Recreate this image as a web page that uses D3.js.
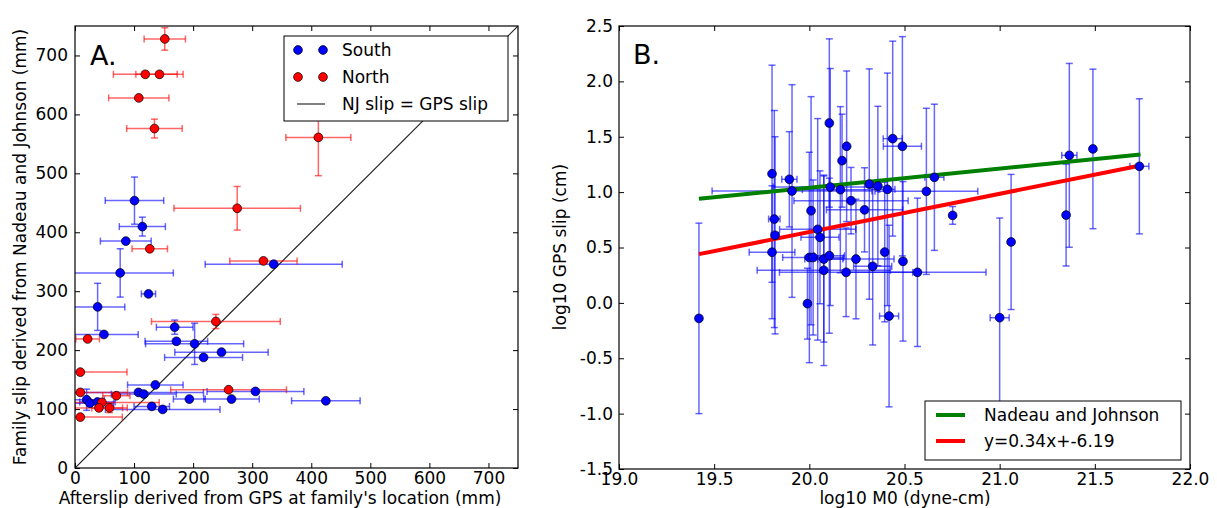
<!DOCTYPE html>
<html>
<head>
<meta charset="utf-8">
<script src="https://cdn.jsdelivr.net/npm/d3@7"></script>
<style>
html,body{margin:0;padding:0;background:#fff;}
svg{display:block;font-family:"DejaVu Sans",sans-serif;}
</style>
</head>
<body>
<svg id="chart" width="1217" height="508"></svg>
<script>
// ---------- Panel A data (mm) ----------
const southX    = [100.7,114,86,76.5,124.4,38.3,49,168.8,171.6,202.5,248,217.7,136,107.5,116.5,305.5,193.6,265,424.7,130,148.5,19.7,25.3,38,336.4];
const southY    = [453.7,409.6,385,331,295.4,273.4,226.6,239,215,210.7,196.6,187.6,141,128.3,125.4,130,117,117,114,104.5,99.4,115.8,110,112,345.8];
const southXErr = [49.5,39,43,90,12,46,58,31,53,83,79,66,47,110,55,82,27,47,58,30,97,30,40,30,116];
const southYErr = [40,16,0,41,0,40,0,12,0,35,0,0,0,0,0,0,0,0,0,0,0,18,0,0,0];

const northX    = [152,119,143,108,134.5,412,274.6,126.6,319,238.5,21.4,9,9,9,70,45.6,40.5,58.5,260];
const northY    = [728,668,668,628,576,561,440.7,372,351.4,248.6,219,162.7,128.3,86.4,122.6,111.3,102,102,132.8];
const northXErr = [35,54,40,51,47,55,107,30,57,109,20,79,80,71,23,97,40,30,98];
const northYErr = [19,0,0,0,16,65,37,0,0,12,0,0,0,0,0,0,0,8,0];

const ticksA = [0,100,200,300,400,500,600,700];
const identityLine = [0,750];

// ---------- Panel B data (log10) ----------
const bX    = [19.42,19.804,19.816,19.82,19.804,19.895,19.909,20.009,19.99,20.0,20.02,20.044,20.056,20.076,20.076,20.105,20.11,20.105,20.163,20.172,20.196,20.193,20.219,20.245,20.29,20.315,20.333,20.36,20.396,20.41,20.419,20.438,20.489,20.492,20.568,20.615,20.657,20.753,21.0,21.06,21.349,21.366,21.49,21.734];
const bY    = [-0.14,1.166,0.757,0.61,0.457,1.116,1.01,0.832,-0.007,0.41,0.41,0.664,0.592,0.396,0.294,1.624,1.046,0.426,1.022,1.284,1.414,0.276,0.923,0.396,0.84,1.073,0.33,1.055,0.459,1.025,-0.119,1.483,1.414,0.375,0.276,1.007,1.134,0.79,-0.134,0.55,0.793,1.332,1.39,1.233];
const bXErr = [0,0,0.03,0.02,0.12,0.04,0.42,0,0,0,0.16,0.2,0.1,0.1,0.35,0,0.3,0.08,0.2,0,0,0.35,0.3,0.2,0.2,0,0.1,0,0,0.04,0.05,0.05,0.1,0,0.36,0.27,0.05,0,0.05,0,0,0.04,0,0.05];
const bYErr = [0.86,0.98,0.98,0.89,0.6,0.43,0.96,1.03,0.32,0.95,0.7,1.0,0.6,0.75,0.86,0.76,1.07,0.7,0.75,0.42,0.68,0.4,0.3,0.54,0.38,1.04,0.71,0.72,0.63,1.05,0.82,0.88,0.99,0.72,0.67,0.75,0.66,0.08,0.9,0.61,0.46,0.83,0.72,0.61];

const lineX   = [19.42,21.74];
const njY     = [0.94,1.34];
const fitY    = [0.44,1.24];
const ticksBX = [19.0,19.5,20.0,20.5,21.0,21.5,22.0];
const ticksBY = [-1.5,-1.0,-0.5,0.0,0.5,1.0,1.5,2.0,2.5];

// ---------- drawing ----------
const svg = d3.select("#chart");
const FS = 17;
const CAP = 3.5;

function errorbars(g, xs, ys, xe, ye, sx, sy, color){
  xs.forEach((x,i)=>{
    const px = sx(x), py = sy(ys[i]);
    if (xe[i] > 0){
      const x0 = sx(x - xe[i]), x1 = sx(x + xe[i]);
      g.append("line").attr("x1",x0).attr("x2",x1).attr("y1",py).attr("y2",py);
      g.append("line").attr("x1",x0).attr("x2",x0).attr("y1",py-CAP).attr("y2",py+CAP);
      g.append("line").attr("x1",x1).attr("x2",x1).attr("y1",py-CAP).attr("y2",py+CAP);
    }
    if (ye[i] > 0){
      const y0 = sy(ys[i] - ye[i]), y1 = sy(ys[i] + ye[i]);
      g.append("line").attr("x1",px).attr("x2",px).attr("y1",y0).attr("y2",y1);
      g.append("line").attr("x1",px-CAP).attr("x2",px+CAP).attr("y1",y0).attr("y2",y0);
      g.append("line").attr("x1",px-CAP).attr("x2",px+CAP).attr("y1",y1).attr("y2",y1);
    }
  });
  g.attr("stroke",color).attr("stroke-width",1.5).attr("fill","none");
}

function points(g, xs, ys, sx, sy, color){
  g.selectAll("circle").data(xs).join("circle")
    .attr("cx",(d)=>sx(d)).attr("cy",(d,i)=>sy(ys[i])).attr("r",4.4)
    .attr("fill",color).attr("stroke","#000").attr("stroke-width",0.7);
}

function frame(x, y, fmt, xt, yt, xpad, ypad){
  const [L,R] = x.range(), [B,T] = y.range();
  const g = svg.append("g");
  const ax = (gen, tr) => {
    const a = g.append("g").attr("transform",tr).call(gen);
    a.select(".domain").remove();
    a.selectAll("line").attr("stroke","#000").attr("stroke-width",1);
    a.selectAll("text").attr("font-size",FS).attr("fill","#000").attr("font-family","DejaVu Sans");
    return a;
  };
  ax(d3.axisBottom(x).tickValues(xt).tickSize(-5).tickPadding(xpad).tickFormat(fmt), `translate(0,${B})`);
  ax(d3.axisTop(x).tickValues(xt).tickSize(-5).tickFormat(""), `translate(0,${T})`);
  ax(d3.axisLeft(y).tickValues(yt).tickSize(-5).tickPadding(ypad).tickFormat(fmt), `translate(${L},0)`);
  ax(d3.axisRight(y).tickValues(yt).tickSize(-5).tickFormat(""), `translate(${R},0)`);
  g.append("rect").attr("x",L).attr("y",T).attr("width",R-L).attr("height",B-T)
    .attr("fill","none").attr("stroke","#000").attr("stroke-width",1.2);
}

// ---- Panel A ----
const xA = d3.scaleLinear().domain([0,750]).range([75,518]);
const yA = d3.scaleLinear().domain([0,750]).range([468,26]);
svg.append("clipPath").attr("id","clipA").append("rect")
  .attr("x",75).attr("y",26).attr("width",443).attr("height",442);
const gA = svg.append("g").attr("clip-path","url(#clipA)");
gA.append("line").attr("x1",xA(identityLine[0])).attr("y1",yA(identityLine[0]))
  .attr("x2",xA(identityLine[1])).attr("y2",yA(identityLine[1]))
  .attr("stroke","#222").attr("stroke-width",1.2);
errorbars(gA.append("g"), southX, southY, southXErr, southYErr, xA, yA, "rgba(0,0,255,0.6)");
errorbars(gA.append("g"), northX, northY, northXErr, northYErr, xA, yA, "rgba(255,0,0,0.6)");
points(gA.append("g"), southX, southY, xA, yA, "#0000ff");
points(gA.append("g"), northX, northY, xA, yA, "#ff0000");
frame(xA, yA, d3.format("d"), ticksA, ticksA, 4, 7);

svg.append("text").attr("x",90).attr("y",65).attr("font-size",27).text("A.");

// legend A
const lgA = svg.append("g");
lgA.append("rect").attr("x",284).attr("y",36).attr("width",224).attr("height",85)
  .attr("fill","#fff").attr("stroke","#000").attr("stroke-width",1);
[["South","#0000ff",50],["North","#ff0000",77]].forEach(([t,c,yy])=>{
  [298,323].forEach(xx=>lgA.append("circle").attr("cx",xx).attr("cy",yy).attr("r",4.4)
    .attr("fill",c).attr("stroke","#000").attr("stroke-width",0.7));
  lgA.append("text").attr("x",342).attr("y",yy+6).attr("font-size",FS).text(t);
});
lgA.append("line").attr("x1",297).attr("x2",325).attr("y1",104).attr("y2",104).attr("stroke","#000").attr("stroke-width",1);
lgA.append("text").attr("x",342).attr("y",110).attr("font-size",FS).text("NJ slip = GPS slip");

svg.append("text").attr("x",280).attr("y",503.5).attr("text-anchor","middle").attr("font-size",FS)
  .text("Afterslip derived from GPS at family's location (mm)");
svg.append("text").attr("transform","translate(26,247) rotate(-90)").attr("text-anchor","middle").attr("font-size",FS)
  .text("Family slip derived from Nadeau and Johnson (mm)");

// ---- Panel B ----
const xB = d3.scaleLinear().domain([19,22]).range([619,1190]);
const yB = d3.scaleLinear().domain([-1.5,2.5]).range([469,26]);
svg.append("clipPath").attr("id","clipB").append("rect")
  .attr("x",619).attr("y",26).attr("width",571).attr("height",443);
const gB = svg.append("g").attr("clip-path","url(#clipB)");
errorbars(gB.append("g"), bX, bY, bXErr, bYErr, xB, yB, "rgba(0,0,255,0.6)");
const line = d3.line().x(d=>xB(d[0])).y(d=>yB(d[1]));
gB.append("path").attr("d",line(lineX.map((x,i)=>[x,njY[i]]))).attr("stroke","#008000").attr("stroke-width",4).attr("fill","none");
gB.append("path").attr("d",line(lineX.map((x,i)=>[x,fitY[i]]))).attr("stroke","#ff0000").attr("stroke-width",4).attr("fill","none");
points(gB.append("g"), bX, bY, xB, yB, "#0000ff");
frame(xB, yB, d=>d.toFixed(1), ticksBX, ticksBY, 4, 6);

svg.append("text").attr("x",633).attr("y",64).attr("font-size",27).text("B.");

const lgB = svg.append("g");
lgB.append("rect").attr("x",925).attr("y",401).attr("width",256).attr("height",59)
  .attr("fill","#fff").attr("stroke","#000").attr("stroke-width",1);
[["Nadeau and Johnson","#008000",415],["y=0.34x+-6.19","#ff0000",441]].forEach(([t,c,yy])=>{
  lgB.append("line").attr("x1",936).attr("x2",965).attr("y1",yy).attr("y2",yy).attr("stroke",c).attr("stroke-width",4);
  lgB.append("text").attr("x",984).attr("y",yy+6).attr("font-size",FS).text(t);
});

svg.append("text").attr("x",905).attr("y",503.5).attr("text-anchor","middle").attr("font-size",FS)
  .text("log10 M0 (dyne-cm)");
svg.append("text").attr("transform","translate(566,247) rotate(-90)").attr("text-anchor","middle").attr("font-size",FS)
  .text("log10 GPS slip (cm)");
</script>
</body>
</html>
